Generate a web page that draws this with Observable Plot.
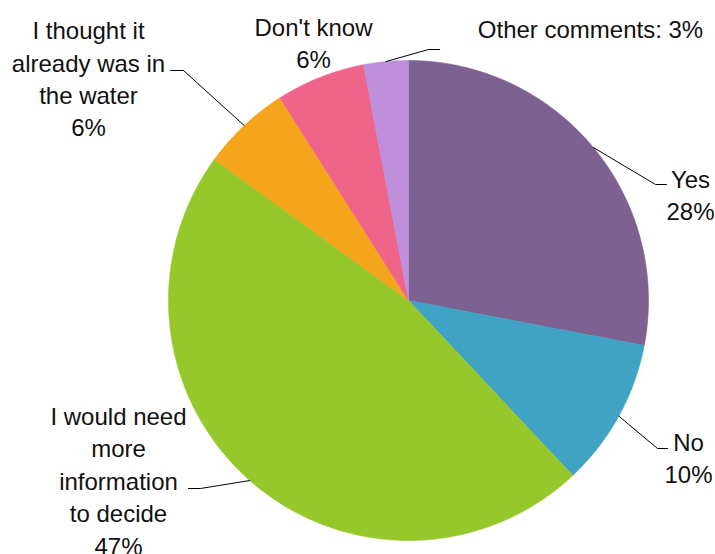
<!DOCTYPE html>
<html>
<head>
<meta charset="utf-8">
<script src="https://cdn.jsdelivr.net/npm/d3@7"></script>
<script src="https://cdn.jsdelivr.net/npm/@observablehq/plot@0.6"></script>
<style>
  html, body { margin: 0; padding: 0; background: #fff; }
  #chart { width: 715px; height: 554px; }
</style>
</head>
<body>
<div id="chart"></div>
<script>
// ---- Data ----
const categories = ["Yes", "No", "I would need more information to decide", "I thought it already was in the water", "Don't know", "Other comments"];
const values = [28, 10, 47, 6, 6, 3];
const labelLines = [["Yes"], ["No"], ["I would need", "more", "information", "to decide"], ["I thought it", "already was in", "the water"], ["Don't know"], ["Other comments:"]];
const labelJoin = ["\n", "\n", "\n", "\n", "\n", " "];
const colors = ["#7D6190", "#41A3C3", "#97C82B", "#F4A51C", "#EF6489", "#BF8FDB"];

// ---- Layout (pixels) ----
const W = 715, H = 554;
const cx = 408, cy = 300, R = 240;
// label block centres
const labelPos = [[690, 193], [688, 456], [118, 479], [88, 77], [313, 41], [590, 27]];
// leader line: [elbow, end] or null
const leaderPts = [
  [[655, 184], [666, 184]],
  [[657, 448], [667, 448]],
  [[200, 488], [188, 488]],
  [[183, 70], [170, 70]],
  null,
  [[428, 49], [439, 49]]
];

const ux = px => (px - cx) / R;
const uy = py => (cy - py) / R;

// ---- Slices ----
const total = d3.sum(values);
const slicePts = [];
const anchors = [];
let acc = 0;
values.forEach((v, i) => {
  const a0 = acc / total * 2 * Math.PI;
  acc += v;
  const a1 = acc / total * 2 * Math.PI;
  const cat = categories[i];
  slicePts.push({cat, x: 0, y: 0});
  const n = Math.max(2, Math.ceil((a1 - a0) / (Math.PI / 720)));
  for (let k = 0; k <= n; k++) {
    const t = a0 + (a1 - a0) * k / n;
    slicePts.push({cat, x: Math.sin(t), y: Math.cos(t)});
  }
  slicePts.push({cat, x: 0, y: 0});
  const m = (a0 + a1) / 2;
  anchors.push({x: Math.sin(m), y: Math.cos(m)});
});

const leaderData = [];
leaderPts.forEach((lp, i) => {
  if (!lp) return;
  leaderData.push({id: i, x: anchors[i].x, y: anchors[i].y});
  lp.forEach(p => leaderData.push({id: i, x: ux(p[0]), y: uy(p[1])}));
});

const labelData = categories.map((c, i) => ({
  text: labelLines[i].join("\n") + labelJoin[i] + values[i] + "%",
  x: ux(labelPos[i][0]),
  y: uy(labelPos[i][1])
}));

const chart = Plot.plot({
  width: W,
  height: H,
  margin: 0,
  x: {domain: [ux(0), ux(W)], axis: null},
  y: {domain: [uy(H), uy(0)], axis: null},
  color: {domain: categories, range: colors},
  style: {fontFamily: "'Liberation Sans', Arial, sans-serif", background: "#fff"},
  marks: [
    Plot.line(slicePts, {x: "x", y: "y", z: "cat", fill: "cat", stroke: "cat", strokeWidth: 0.6, curve: "linear"}),
    Plot.line(leaderData, {x: "x", y: "y", z: "id", stroke: "#000", strokeWidth: 1}),
    Plot.text(labelData, {x: "x", y: "y", text: "text", fontSize: 24, lineHeight: 1.35, textAnchor: "middle", lineAnchor: "middle", fill: "#111"})
  ]
});
document.getElementById("chart").appendChild(chart);
</script>
</body>
</html>
